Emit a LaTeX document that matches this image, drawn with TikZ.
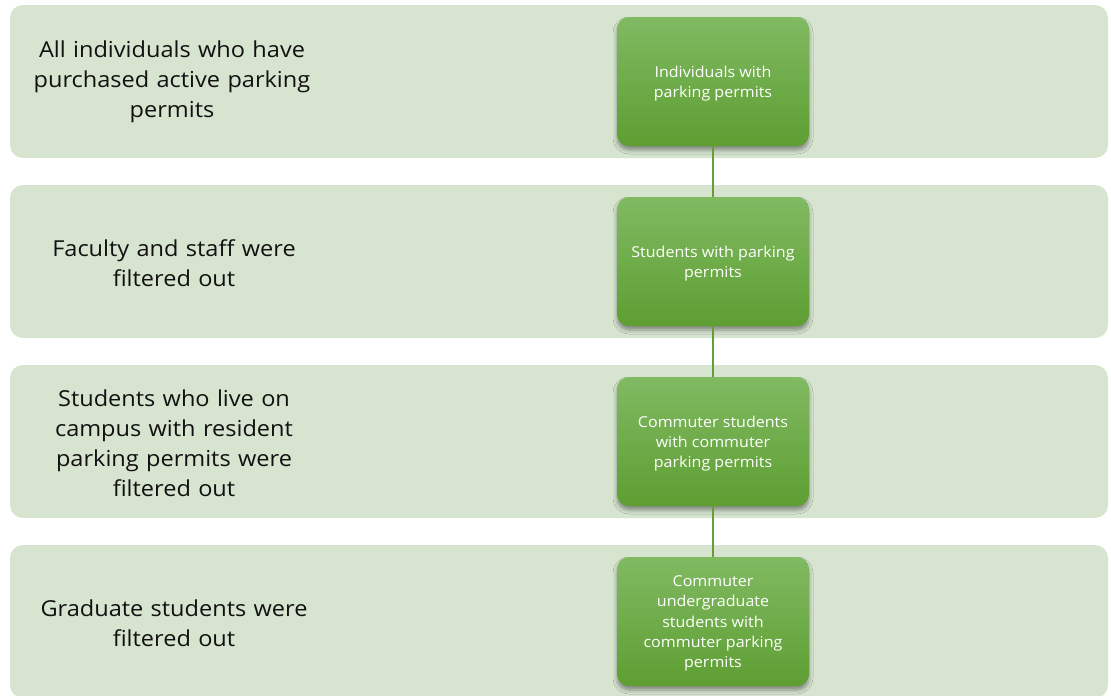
\documentclass[tikz,border=0pt]{standalone}
\usepackage{fontspec}
\setmainfont{Open Sans}[FakeStretch=1.07]
\usetikzlibrary{shadows.blur}
\definecolor{bandfill}{RGB}{215,228,208}
\definecolor{boxtop}{RGB}{128,186,98}
\definecolor{boxbottom}{RGB}{94,158,50}
\definecolor{linkgreen}{RGB}{98,158,58}
\definecolor{labeltext}{RGB}{17,17,17}
% stage text, nudged slightly below the box centre
\newcommand{\stagetext}[1]{\parbox{188pt}{\centering\vspace*{4pt}#1}}
\begin{document}
\begin{tikzpicture}[x=1pt,y=-1pt,
  band/.style={fill=bandfill, draw=none, rounded corners=13pt,
    minimum width=1098pt, minimum height=153pt, inner sep=0pt},
  bandlabel/.style={text=labeltext, align=center, text width=310pt,
    font=\fontsize{22}{30}\selectfont},
  stage/.style={draw=none, rounded corners=12pt, top color=boxtop, bottom color=boxbottom,
    minimum width=192pt, minimum height=129pt, inner sep=0pt, text=white,
    font=\fontsize{15}{20.3}\selectfont,
    blur shadow={shadow xshift=0pt, shadow yshift=-4pt, shadow blur radius=4pt, shadow opacity=40}},
  link/.style={draw=linkgreen, line width=2.8pt}
]
\useasboundingbox (0,0) rectangle (1111,696);

% background bands
\node[band] (b1) at (559,81.5) {};
\node[band] (b2) at (559,261.5) {};
\node[band] (b3) at (559,441.5) {};
\node[band] (b4) at (559,621.5) {};

% descriptions on the left
\node[bandlabel] (l1) at (172,82) {All individuals who have\\purchased active parking\\permits};
\node[bandlabel] (l2) at (174,263) {Faculty and staff were\\filtered out};
\node[bandlabel] (l3) at (174,443) {Students who live on\\campus with resident\\parking permits were\\filtered out};
\node[bandlabel] (l4) at (174,623) {Graduate students were\\filtered out};

% stage boxes
\node[stage] (s1) at (713,81.5) {\stagetext{Individuals with\\parking permits}};
\node[stage] (s2) at (713,261.5) {\stagetext{Students with parking\\permits}};
\node[stage] (s3) at (713,441.5) {\stagetext{Commuter students\\with commuter\\parking permits}};
\node[stage] (s4) at (713,621.5) {\stagetext{Commuter\\undergraduate\\students with\\commuter parking\\permits}};

% connectors
\draw[link] (s1.south) -- (s2.north);
\draw[link] (s2.south) -- (s3.north);
\draw[link] (s3.south) -- (s4.north);
\end{tikzpicture}
\end{document}
